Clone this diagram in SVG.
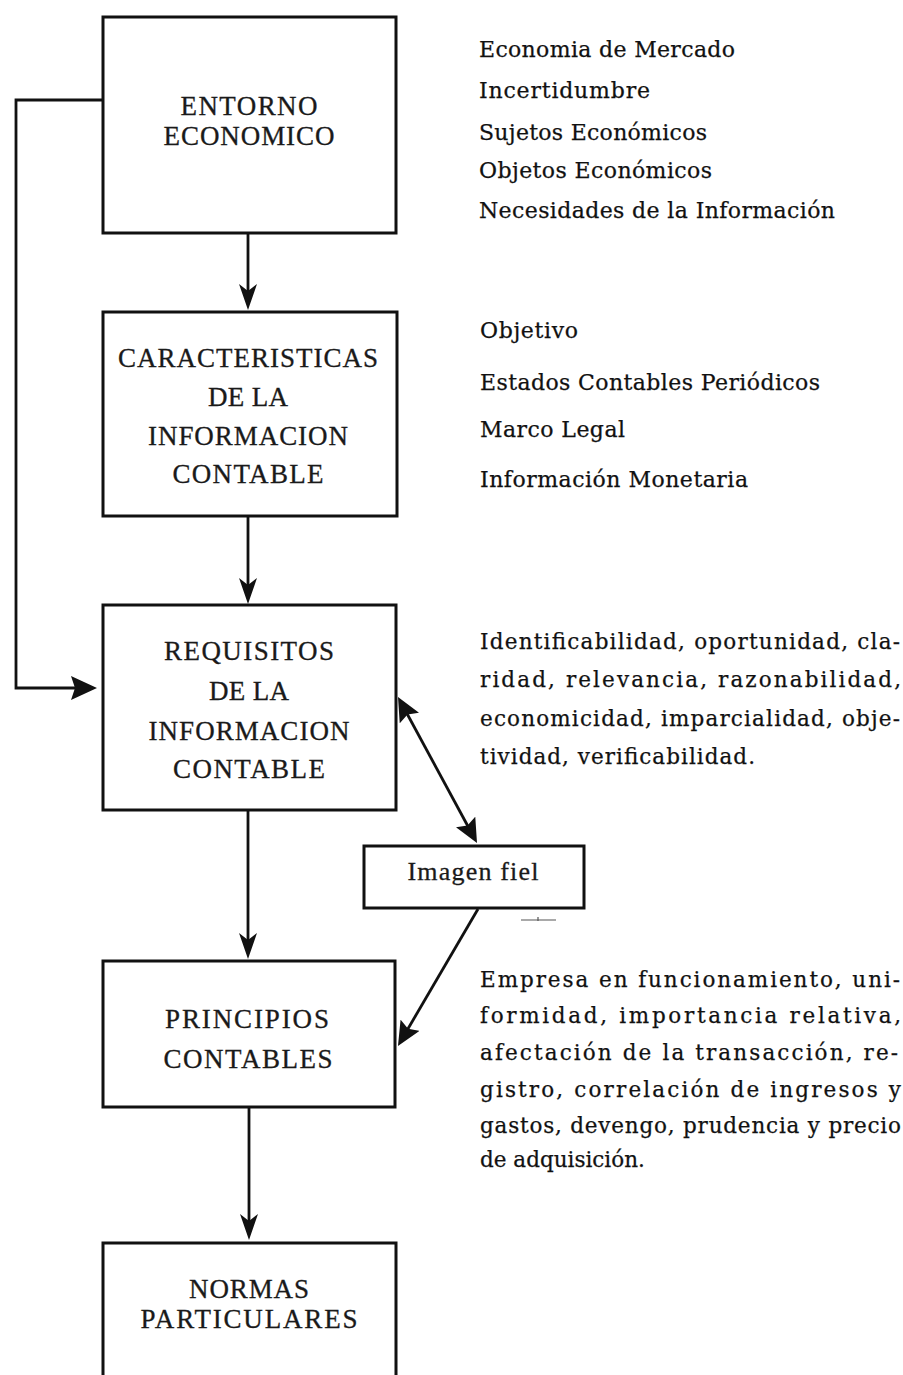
<svg xmlns="http://www.w3.org/2000/svg" width="903" height="1375" viewBox="0 0 903 1375">
<defs>
<style>
.box{fill:#fff;stroke:#111;stroke-width:3}
.lbl{font-family:"Liberation Serif","Times New Roman",serif;font-size:27px;fill:#1a1a1a;stroke:#1a1a1a;stroke-width:0.3;text-anchor:middle}
.side{font-family:"DejaVu Serif","Liberation Serif",serif;font-size:22px;fill:#111;stroke:#111;stroke-width:0.25}
.para{font-size:21.5px}
.con{fill:none;stroke:#111;stroke-width:2.8}
</style>
<marker id="ah" markerUnits="userSpaceOnUse" markerWidth="26" markerHeight="18" viewBox="0 0 26 18" refX="18" refY="9" orient="auto">
<path d="M0,0 L26,9 L0,18 L7,9 z" fill="#111"/>
</marker>
<marker id="ahBig" markerUnits="userSpaceOnUse" markerWidth="26" markerHeight="24" viewBox="0 0 26 24" refX="20" refY="12" orient="auto">
<path d="M0,0 L26,12 L0,24 L4,12 z" fill="#111"/>
</marker>
<marker id="ahD" markerUnits="userSpaceOnUse" markerWidth="24" markerHeight="22" viewBox="0 0 24 22" refX="16" refY="11" orient="auto-start-reverse">
<path d="M0,0 L24,11 L0,22 L4,11 z" fill="#111"/>
</marker>
</defs>
<rect width="903" height="1375" fill="#fff"/>

<g id="connectors">
<path class="con" d="M248,234 V302" marker-end="url(#ah)"/>
<path class="con" d="M248,517 V596" marker-end="url(#ah)"/>
<path class="con" d="M248,811 V951" marker-end="url(#ah)"/>
<path class="con" d="M249,1108 V1232" marker-end="url(#ah)"/>
<path class="con" d="M103,100 H16 V688 H91" marker-end="url(#ahBig)"/>
<path class="con" d="M401.8,704 L473.2,836" marker-start="url(#ahD)" marker-end="url(#ahD)"/>
<path class="con" d="M478,909 L402,1039" marker-end="url(#ahD)"/>
<path d="M521,920 H556 M538,917 V921" stroke="#555" stroke-width="1.2" fill="none"/>
</g>

<g id="entorno">
<rect class="box" x="103" y="17" width="293" height="216"/>
<text class="lbl" x="249" y="115" textLength="137" lengthAdjust="spacing">ENTORNO</text>
<text class="lbl" x="249" y="145" textLength="171" lengthAdjust="spacing">ECONOMICO</text>
</g>

<g id="caracteristicas">
<rect class="box" x="103" y="312" width="294" height="204"/>
<text class="lbl" x="248" y="367" textLength="260" lengthAdjust="spacing">CARACTERISTICAS</text>
<text class="lbl" x="248" y="406" textLength="80" lengthAdjust="spacing">DE LA</text>
<text class="lbl" x="248" y="445" textLength="200" lengthAdjust="spacing">INFORMACION</text>
<text class="lbl" x="248" y="483" textLength="151" lengthAdjust="spacing">CONTABLE</text>
</g>

<g id="requisitos">
<rect class="box" x="103" y="605" width="293" height="205"/>
<text class="lbl" x="249" y="660" textLength="170" lengthAdjust="spacing">REQUISITOS</text>
<text class="lbl" x="249" y="700" textLength="80" lengthAdjust="spacing">DE LA</text>
<text class="lbl" x="249" y="740" textLength="201" lengthAdjust="spacing">INFORMACION</text>
<text class="lbl" x="249" y="778" textLength="152" lengthAdjust="spacing">CONTABLE</text>
</g>

<g id="imagen-fiel">
<rect class="box" x="364" y="846" width="220" height="62"/>
<text class="lbl" x="473" y="880" textLength="131" lengthAdjust="spacing" style="font-size:26px">Imagen fiel</text>
</g>

<g id="principios">
<rect class="box" x="103" y="961" width="292" height="146"/>
<text class="lbl" x="247" y="1028" textLength="164" lengthAdjust="spacing">PRINCIPIOS</text>
<text class="lbl" x="248" y="1068" textLength="169" lengthAdjust="spacing">CONTABLES</text>
</g>

<g id="normas">
<path class="box" d="M103,1380 V1243 H396 V1380"/>
<text class="lbl" x="249" y="1298" textLength="120" lengthAdjust="spacing">NORMAS</text>
<text class="lbl" x="249" y="1328" textLength="217" lengthAdjust="spacing">PARTICULARES</text>
</g>

<g id="notas-entorno">
<text class="side" x="479" y="57" textLength="256" lengthAdjust="spacing">Economia de Mercado</text>
<text class="side" x="479" y="98" textLength="171" lengthAdjust="spacing">Incertidumbre</text>
<text class="side" x="479" y="140" textLength="228" lengthAdjust="spacing">Sujetos Económicos</text>
<text class="side" x="479" y="178" textLength="233" lengthAdjust="spacing">Objetos Económicos</text>
<text class="side" x="479" y="218" textLength="356" lengthAdjust="spacing">Necesidades de la Información</text>
</g>

<g id="notas-caracteristicas">
<text class="side" x="480" y="338" textLength="98" lengthAdjust="spacing">Objetivo</text>
<text class="side" x="480" y="390" textLength="340" lengthAdjust="spacing">Estados Contables Periódicos</text>
<text class="side" x="480" y="437" textLength="145" lengthAdjust="spacing">Marco Legal</text>
<text class="side" x="480" y="487" textLength="268" lengthAdjust="spacing">Información Monetaria</text>
</g>

<g id="notas-requisitos">
<text class="side para" x="480" y="649" textLength="420" lengthAdjust="spacing">Identificabilidad, oportunidad, cla-</text>
<text class="side para" x="480" y="687" textLength="421" lengthAdjust="spacing">ridad, relevancia, razonabilidad,</text>
<text class="side para" x="480" y="726" textLength="420" lengthAdjust="spacing">economicidad, imparcialidad, obje-</text>
<text class="side para" x="480" y="764" textLength="275" lengthAdjust="spacing">tividad, verificabilidad.</text>
</g>

<g id="notas-principios">
<text class="side para" x="480" y="987" textLength="420" lengthAdjust="spacing">Empresa en funcionamiento, uni-</text>
<text class="side para" x="480" y="1023" textLength="421" lengthAdjust="spacing">formidad, importancia relativa,</text>
<text class="side para" x="480" y="1060" textLength="418" lengthAdjust="spacing">afectación de la transacción, re-</text>
<text class="side para" x="480" y="1097" textLength="421" lengthAdjust="spacing">gistro, correlación de ingresos y</text>
<text class="side para" x="480" y="1133" textLength="421" lengthAdjust="spacing">gastos, devengo, prudencia y precio</text>
<text class="side para" x="480" y="1167">de adquisición.</text>
</g>
</svg>
